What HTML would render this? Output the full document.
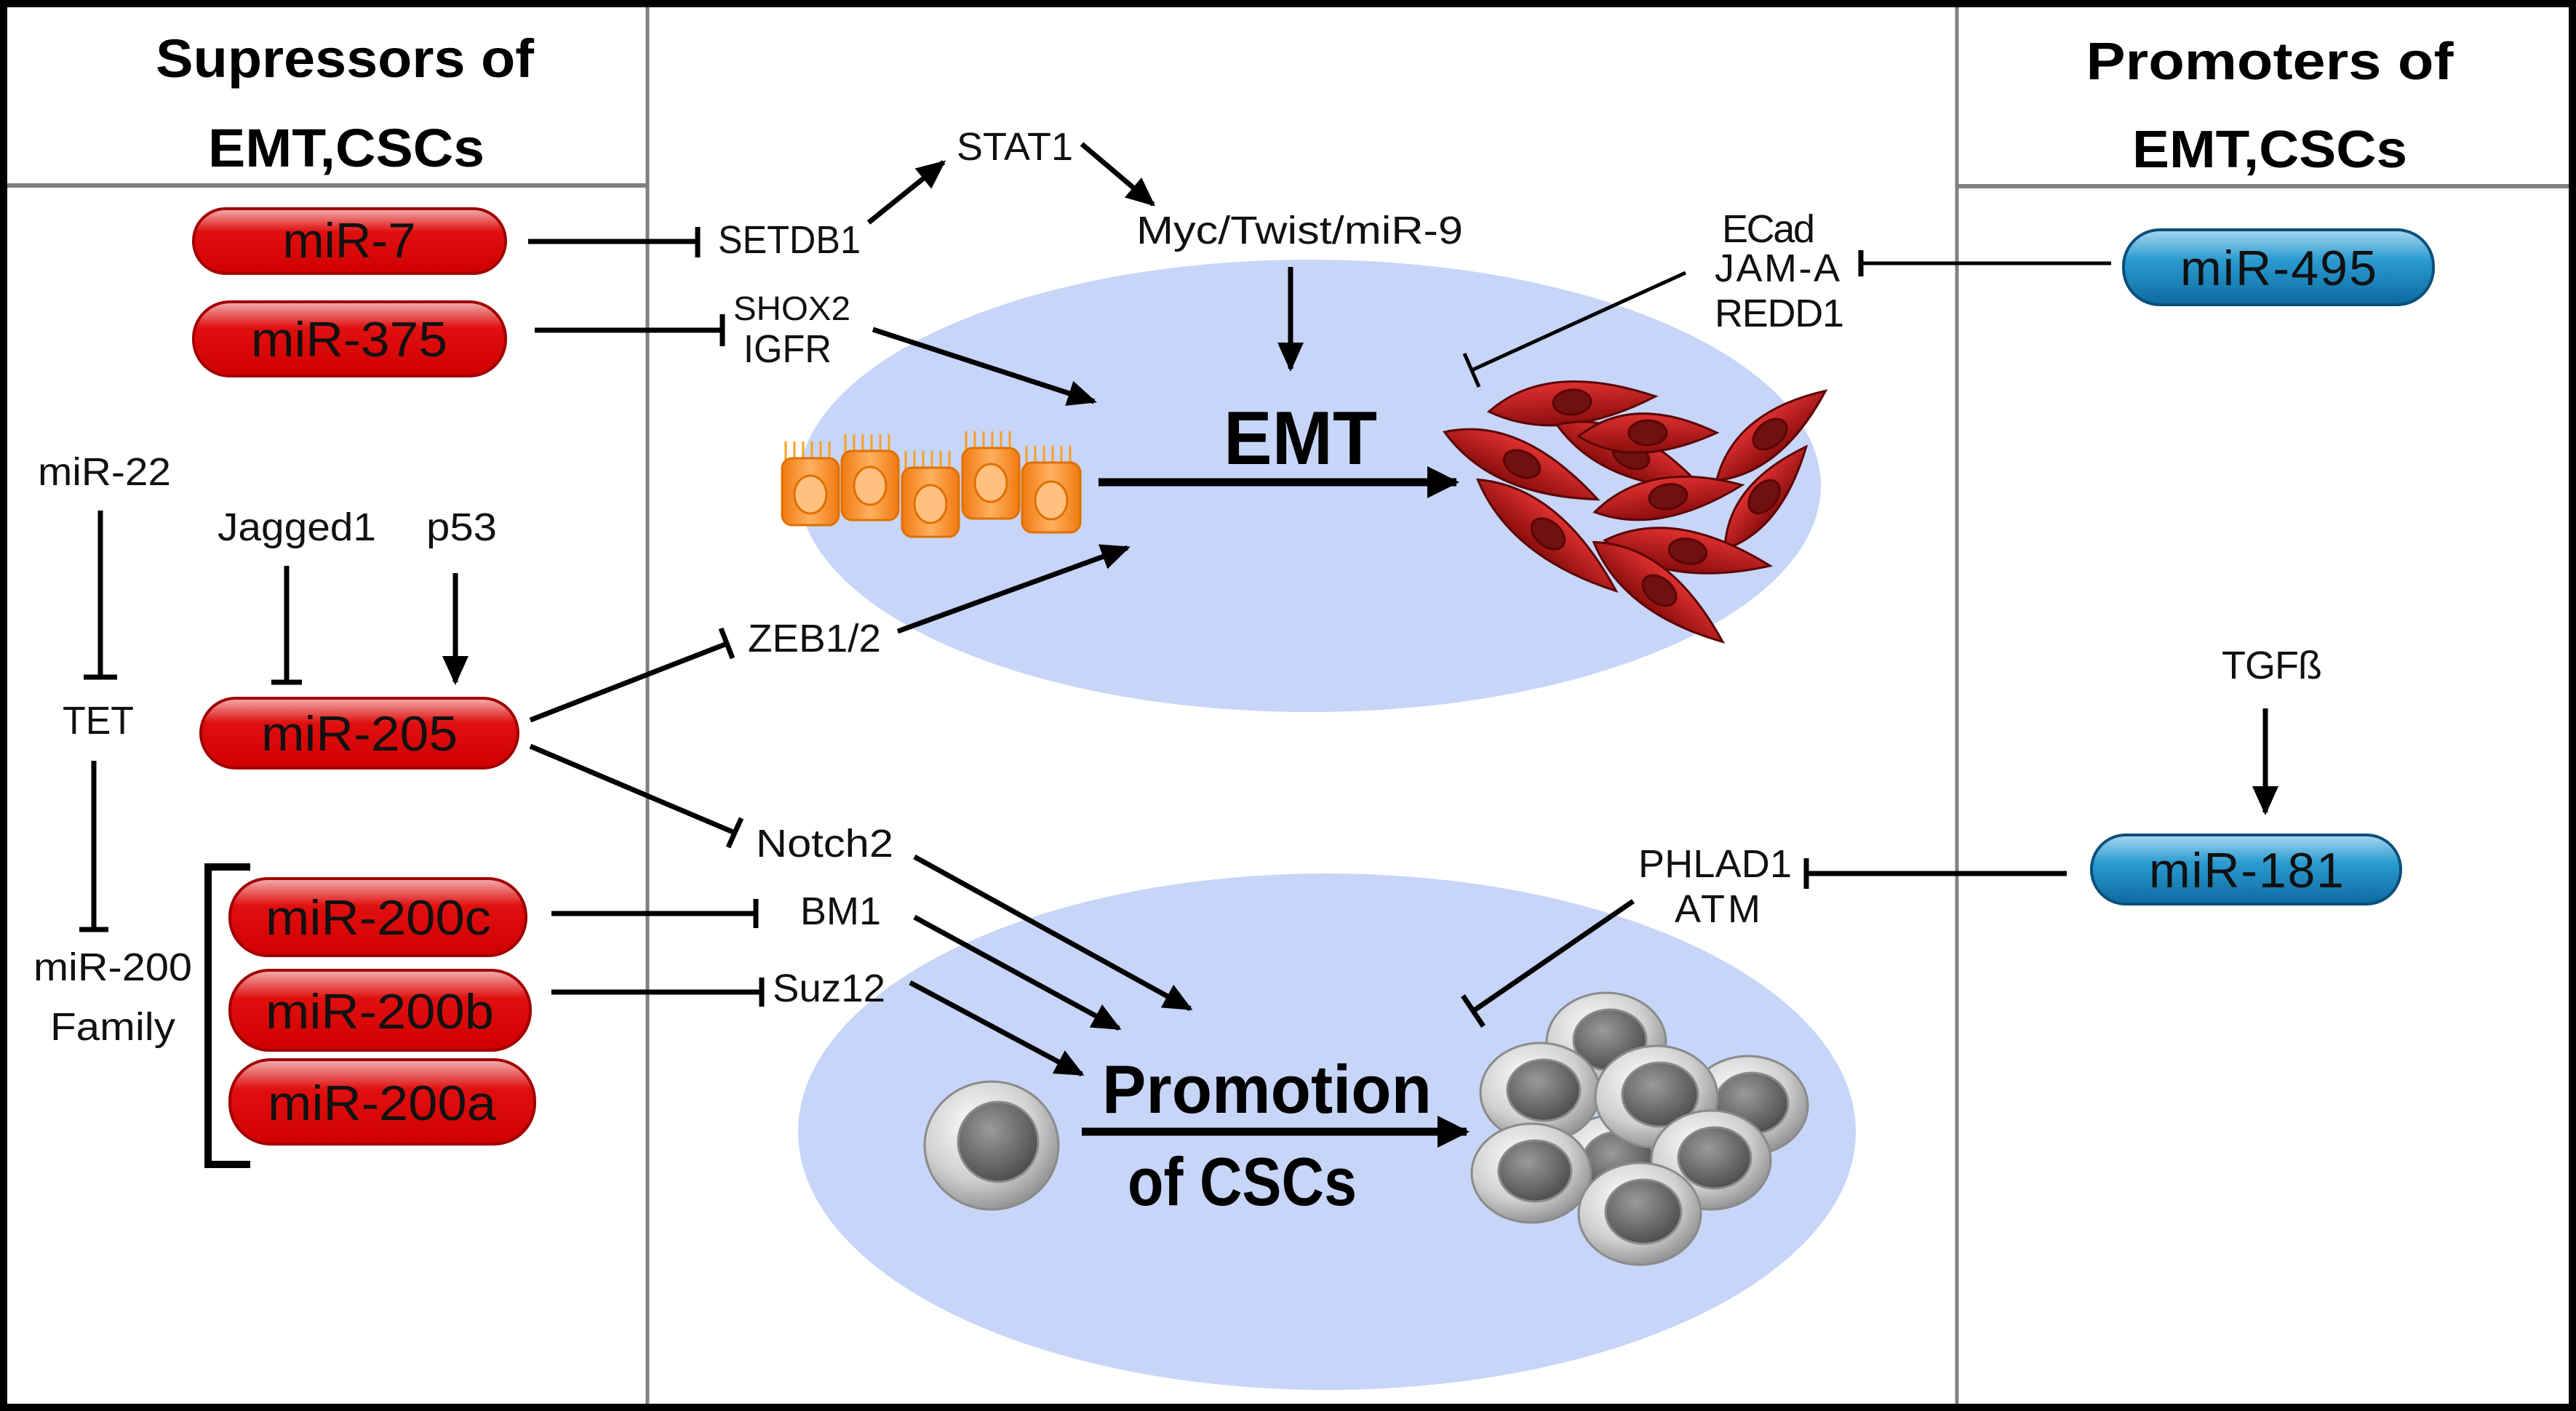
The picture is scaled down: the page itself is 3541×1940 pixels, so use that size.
<!DOCTYPE html>
<html><head><meta charset="utf-8"><style>html,body{margin:0;padding:0;background:#fff}svg{display:block}</style></head><body>
<svg xmlns="http://www.w3.org/2000/svg" width="3541" height="1940" viewBox="0 0 3541 1940" font-family="Liberation Sans, sans-serif">
<defs>
<marker id="ah" markerUnits="userSpaceOnUse" markerWidth="40" markerHeight="36" refX="36" refY="18" orient="auto"><path d="M0,0 L40,18 L0,36 Z" fill="#000"/></marker>
<marker id="ahb" markerUnits="userSpaceOnUse" markerWidth="44" markerHeight="44" refX="40" refY="22" orient="auto"><path d="M0,0 L44,22 L0,44 Z" fill="#000"/></marker>
<linearGradient id="red" x1="0" y1="0" x2="0" y2="1"><stop offset="0" stop-color="#f3b0b0"/><stop offset="0.35" stop-color="#e01010"/><stop offset="1" stop-color="#d00000"/></linearGradient>
<linearGradient id="blue" x1="0" y1="0" x2="0" y2="1"><stop offset="0" stop-color="#a8d8f0"/><stop offset="0.4" stop-color="#2b9bd0"/><stop offset="1" stop-color="#0d6aa0"/></linearGradient>
<linearGradient id="org" x1="0" y1="0" x2="1" y2="0"><stop offset="0" stop-color="#f07a10"/><stop offset="0.5" stop-color="#ffb060"/><stop offset="1" stop-color="#f07a10"/></linearGradient>
<radialGradient id="gcell" cx="0.4" cy="0.35" r="0.7"><stop offset="0" stop-color="#ffffff"/><stop offset="0.6" stop-color="#d0d0d0"/><stop offset="1" stop-color="#8a8a8a"/></radialGradient>
<radialGradient id="gnuc" cx="0.4" cy="0.35" r="0.7"><stop offset="0" stop-color="#9a9a9a"/><stop offset="1" stop-color="#4a4a4a"/></radialGradient>
<linearGradient id="mred" x1="0" y1="0" x2="0" y2="1"><stop offset="0" stop-color="#e03030"/><stop offset="1" stop-color="#8a0d0d"/></linearGradient>
</defs>
<rect x="0" y="0" width="3541" height="1940" fill="#fff"/>
<ellipse cx="1800" cy="668" rx="703" ry="311" fill="#c7d5f8"/>
<ellipse cx="1824" cy="1556" rx="727" ry="355" fill="#c7d5f8"/>
<line x1="890" y1="0" x2="890" y2="1940" stroke="#808080" stroke-width="5"/>
<line x1="2690" y1="0" x2="2690" y2="1940" stroke="#808080" stroke-width="5"/>
<line x1="0" y1="255" x2="890" y2="255" stroke="#808080" stroke-width="6"/>
<line x1="2690" y1="256" x2="3541" y2="256" stroke="#808080" stroke-width="6"/>
<rect x="5" y="5" width="3531" height="1930" fill="none" stroke="#000" stroke-width="10"/>
<g font-weight="bold" fill="#000" text-anchor="middle">
<text x="474" y="106" font-size="74" textLength="520" lengthAdjust="spacingAndGlyphs">Supressors of</text>
<text x="476" y="229" font-size="74" textLength="380" lengthAdjust="spacingAndGlyphs">EMT,CSCs</text>
<text x="3120" y="109" font-size="72" textLength="505" lengthAdjust="spacingAndGlyphs">Promoters of</text>
<text x="3120" y="230" font-size="72" textLength="378" lengthAdjust="spacingAndGlyphs">EMT,CSCs</text>
</g>
<g stroke="#a00000" stroke-width="4">
<rect x="266" y="287" width="429" height="89" rx="44" fill="url(#red)"/>
<rect x="266" y="415" width="429" height="102" rx="50" fill="url(#red)"/>
<rect x="276" y="960" width="436" height="96" rx="48" fill="url(#red)"/>
<rect x="316" y="1208" width="407" height="106" rx="52" fill="url(#red)"/>
<rect x="316" y="1334" width="413" height="110" rx="54" fill="url(#red)"/>
<rect x="316" y="1457" width="419" height="116" rx="56" fill="url(#red)"/>
</g>
<g stroke="#0a4f7a" stroke-width="4">
<rect x="2919" y="316" width="426" height="103" rx="50" fill="url(#blue)"/>
<rect x="2875" y="1148" width="425" height="95" rx="47" fill="url(#blue)"/>
</g>
<g font-size="68" fill="#111" text-anchor="middle">
<text x="480" y="354" textLength="183" lengthAdjust="spacingAndGlyphs">miR-7</text>
<text x="480" y="490" textLength="270" lengthAdjust="spacingAndGlyphs">miR-375</text>
<text x="494" y="1032" textLength="270" lengthAdjust="spacingAndGlyphs">miR-205</text>
<text x="520" y="1285" textLength="310" lengthAdjust="spacingAndGlyphs">miR-200c</text>
<text x="522" y="1414" textLength="314" lengthAdjust="spacingAndGlyphs">miR-200b</text>
<text x="525" y="1540" textLength="314" lengthAdjust="spacingAndGlyphs">miR-200a</text>
<text x="3132" y="392" textLength="270">miR-495</text>
<text x="3088" y="1220" textLength="268">miR-181</text>
</g>
<g font-size="54" fill="#111">
<text x="987" y="348" textLength="196" lengthAdjust="spacingAndGlyphs">SETDB1</text>
<text x="1315" y="220" textLength="160" lengthAdjust="spacingAndGlyphs">STAT1</text>
<text x="1562" y="335" textLength="449" lengthAdjust="spacingAndGlyphs">Myc/Twist/miR-9</text>
<text x="1008" y="440" font-size="46" textLength="161" lengthAdjust="spacingAndGlyphs">SHOX2</text>
<text x="1022" y="498" textLength="121" lengthAdjust="spacingAndGlyphs">IGFR</text>
<text x="1028" y="896" textLength="183" lengthAdjust="spacingAndGlyphs">ZEB1/2</text>
<text x="1039" y="1178" textLength="189" lengthAdjust="spacingAndGlyphs">Notch2</text>
<text x="1100" y="1271" textLength="111" lengthAdjust="spacingAndGlyphs">BM1</text>
<text x="1062" y="1377" textLength="155" lengthAdjust="spacingAndGlyphs">Suz12</text>
<text x="52" y="667" textLength="183" lengthAdjust="spacingAndGlyphs">miR-22</text>
<text x="299" y="743" textLength="218" lengthAdjust="spacingAndGlyphs">Jagged1</text>
<text x="586" y="743" textLength="97" lengthAdjust="spacingAndGlyphs">p53</text>
<text x="86" y="1009" textLength="98" lengthAdjust="spacingAndGlyphs">TET</text>
<text x="46" y="1348" textLength="218" lengthAdjust="spacingAndGlyphs">miR-200</text>
<text x="69" y="1430" textLength="172" lengthAdjust="spacingAndGlyphs">Family</text>
<text x="2367" y="333" textLength="128">ECad</text>
<text x="2357" y="387" textLength="172">JAM-A</text>
<text x="2357" y="449" textLength="178">REDD1</text>
<text x="3054" y="933" textLength="138">TGFß</text>
<text x="2252" y="1206" textLength="211">PHLAD1</text>
<text x="2302" y="1268" textLength="118">ATM</text>
</g>
<g font-weight="bold" fill="#000">
<text x="1682" y="638" font-size="104" textLength="211" lengthAdjust="spacingAndGlyphs">EMT</text>
<text x="1515" y="1530" font-size="94" textLength="453" lengthAdjust="spacingAndGlyphs">Promotion</text>
<text x="1550" y="1657" font-size="94" textLength="315" lengthAdjust="spacingAndGlyphs">of CSCs</text>
</g>
<g stroke="#000" stroke-width="7" fill="none">
<line x1="726" y1="332" x2="959" y2="332"/><line x1="959" y1="312" x2="959" y2="354"/>
<line x1="735" y1="454" x2="993" y2="454"/><line x1="993" y1="432" x2="993" y2="476"/>
<line x1="1194" y1="306" x2="1297" y2="223" marker-end="url(#ah)"/>
<line x1="1487" y1="198" x2="1585" y2="281" marker-end="url(#ah)"/>
<line x1="1774" y1="367" x2="1774" y2="507" marker-end="url(#ah)"/>
<line x1="1200" y1="453" x2="1504" y2="552" marker-end="url(#ah)"/>
<line x1="1510" y1="663" x2="2002" y2="663" stroke-width="11" marker-end="url(#ahb)"/>
<line x1="729" y1="990" x2="999" y2="885"/><line x1="991" y1="864" x2="1007" y2="905"/>
<line x1="1234" y1="868" x2="1550" y2="753" marker-end="url(#ah)"/>
<line x1="729" y1="1026" x2="1010" y2="1145"/><line x1="1019" y1="1125" x2="1001" y2="1165"/>
<line x1="1257" y1="1178" x2="1636" y2="1387" marker-end="url(#ah)"/>
<line x1="1257" y1="1261" x2="1538" y2="1414" marker-end="url(#ah)"/>
<line x1="1251" y1="1351" x2="1487" y2="1477" marker-end="url(#ah)"/>
<line x1="758" y1="1256" x2="1039" y2="1256"/><line x1="1039" y1="1236" x2="1039" y2="1276"/>
<line x1="758" y1="1364" x2="1047" y2="1364"/><line x1="1047" y1="1344" x2="1047" y2="1384"/>
<line x1="1487" y1="1556" x2="2016" y2="1556" stroke-width="11" marker-end="url(#ahb)"/>
<line x1="138" y1="702" x2="138" y2="931"/><line x1="115" y1="931" x2="161" y2="931"/>
<line x1="394" y1="778" x2="394" y2="938"/><line x1="373" y1="938" x2="415" y2="938"/>
<line x1="626" y1="788" x2="626" y2="938" marker-end="url(#ah)"/>
<line x1="129" y1="1046" x2="129" y2="1278"/><line x1="109" y1="1278" x2="149" y2="1278"/>
<path d="M344,1192 L286,1192 L286,1601 L344,1601" stroke-width="10"/>
<line x1="2558" y1="362" x2="2902" y2="362" stroke-width="5"/><line x1="2558" y1="344" x2="2558" y2="380"/>
<line x1="2317" y1="375" x2="2023" y2="509" stroke-width="5"/><line x1="2033" y1="532" x2="2013" y2="486" stroke-width="5"/>
<line x1="3114" y1="974" x2="3114" y2="1117" marker-end="url(#ah)"/>
<line x1="2483" y1="1201" x2="2841" y2="1201"/><line x1="2483" y1="1180" x2="2483" y2="1222"/>
<line x1="2245" y1="1239" x2="2025" y2="1390"/><line x1="2039" y1="1411" x2="2011" y2="1369"/>
</g>
<g stroke="#e07000" stroke-width="3">
<g stroke="#f8a020" stroke-width="3">
<path d="M1080,632 v-25 M1092,632 v-25 M1104,632 v-25 M1116,632 v-25 M1128,632 v-25 M1140,632 v-25 M1162,622 v-25 M1174,622 v-25 M1186,622 v-25 M1198,622 v-25 M1210,622 v-25 M1222,622 v-25 M1245,645 v-25 M1257,645 v-25 M1269,645 v-25 M1281,645 v-25 M1293,645 v-25 M1305,645 v-25 M1328,618 v-25 M1340,618 v-25 M1352,618 v-25 M1364,618 v-25 M1376,618 v-25 M1388,618 v-25 M1411,638 v-25 M1423,638 v-25 M1435,638 v-25 M1447,638 v-25 M1459,638 v-25 M1471,638 v-25"/>
</g>
<rect x="1075" y="630" width="78" height="92" rx="14" fill="url(#org)"/>
<rect x="1157" y="620" width="78" height="95" rx="14" fill="url(#org)"/>
<rect x="1240" y="643" width="78" height="95" rx="14" fill="url(#org)"/>
<rect x="1323" y="616" width="78" height="97" rx="14" fill="url(#org)"/>
<rect x="1405" y="636" width="80" height="96" rx="14" fill="url(#org)"/>
<ellipse cx="1114" cy="680" rx="22" ry="26" fill="#ffc080"/>
<ellipse cx="1196" cy="668" rx="22" ry="26" fill="#ffc080"/>
<ellipse cx="1279" cy="693" rx="22" ry="26" fill="#ffc080"/>
<ellipse cx="1362" cy="664" rx="22" ry="26" fill="#ffc080"/>
<ellipse cx="1445" cy="688" rx="22" ry="26" fill="#ffc080"/>
</g>
<g stroke="#5a0505" stroke-width="3">
<g transform="translate(2161,553) rotate(-4)"><path d="M-115,5 Q-30,-60 115,0 Q-20,58 -115,5Z" fill="url(#mred)"/><ellipse rx="26" ry="17" fill="#701010"/></g>
<g transform="translate(2092,638) rotate(25)"><path d="M-115,5 Q-30,-60 115,0 Q-20,58 -115,5Z" fill="url(#mred)"/><ellipse rx="26" ry="17" fill="#701010"/></g>
<g transform="translate(2242,626) rotate(25)"><path d="M-110,5 Q-30,-58 110,0 Q-20,56 -110,5Z" fill="url(#mred)"/><ellipse rx="26" ry="17" fill="#701010"/></g>
<g transform="translate(2265,595) rotate(0)"><path d="M-95,5 Q-20,-55 95,0 Q-20,52 -95,5Z" fill="url(#mred)"/><ellipse rx="26" ry="17" fill="#701010"/></g>
<g transform="translate(2433,597) rotate(-38)"><path d="M-97,5 Q-20,-55 97,0 Q-20,52 -97,5Z" fill="url(#mred)"/><ellipse rx="26" ry="17" fill="#701010"/></g>
<g transform="translate(2293,683) rotate(-9)"><path d="M-103,5 Q-20,-55 103,0 Q-20,52 -103,5Z" fill="url(#mred)"/><ellipse rx="26" ry="17" fill="#701010"/></g>
<g transform="translate(2425,683) rotate(-50)"><path d="M-90,5 Q-20,-50 90,0 Q-20,48 -90,5Z" fill="url(#mred)"/><ellipse rx="26" ry="17" fill="#701010"/></g>
<g transform="translate(2128,734) rotate(40)"><path d="M-122,5 Q-30,-60 122,0 Q-20,58 -122,5Z" fill="url(#mred)"/><ellipse rx="26" ry="17" fill="#701010"/></g>
<g transform="translate(2320,758) rotate(10)"><path d="M-115,5 Q-30,-58 115,0 Q-20,56 -115,5Z" fill="url(#mred)"/><ellipse rx="26" ry="17" fill="#701010"/></g>
<g transform="translate(2281,812) rotate(39)"><path d="M-112,5 Q-30,-58 112,0 Q-20,56 -112,5Z" fill="url(#mred)"/><ellipse rx="26" ry="17" fill="#701010"/></g>
</g>
<g stroke="#8a8a8a" stroke-width="3">
<ellipse cx="1363" cy="1575" rx="92" ry="88" fill="url(#gcell)"/><circle cx="1372" cy="1570" r="55" fill="url(#gnuc)"/>
<ellipse cx="2220" cy="1601" rx="82" ry="68" fill="url(#gcell)"/><ellipse cx="2225" cy="1598" rx="50" ry="42" fill="url(#gnuc)"/>
<ellipse cx="2208" cy="1433" rx="82" ry="68" fill="url(#gcell)"/><ellipse cx="2213" cy="1430" rx="50" ry="42" fill="url(#gnuc)"/>
<ellipse cx="2403" cy="1520" rx="82" ry="68" fill="url(#gcell)"/><ellipse cx="2408" cy="1517" rx="50" ry="42" fill="url(#gnuc)"/>
<ellipse cx="2117" cy="1502" rx="82" ry="68" fill="url(#gcell)"/><ellipse cx="2122" cy="1499" rx="50" ry="42" fill="url(#gnuc)"/>
<ellipse cx="2277" cy="1508" rx="84" ry="70" fill="url(#gcell)"/><ellipse cx="2282" cy="1505" rx="52" ry="44" fill="url(#gnuc)"/>
<ellipse cx="2105" cy="1613" rx="82" ry="68" fill="url(#gcell)"/><ellipse cx="2110" cy="1610" rx="50" ry="42" fill="url(#gnuc)"/>
<ellipse cx="2352" cy="1595" rx="82" ry="68" fill="url(#gcell)"/><ellipse cx="2357" cy="1592" rx="50" ry="42" fill="url(#gnuc)"/>
<ellipse cx="2254" cy="1669" rx="84" ry="70" fill="url(#gcell)"/><ellipse cx="2259" cy="1666" rx="52" ry="44" fill="url(#gnuc)"/>
</g>
</svg>
</body></html>
